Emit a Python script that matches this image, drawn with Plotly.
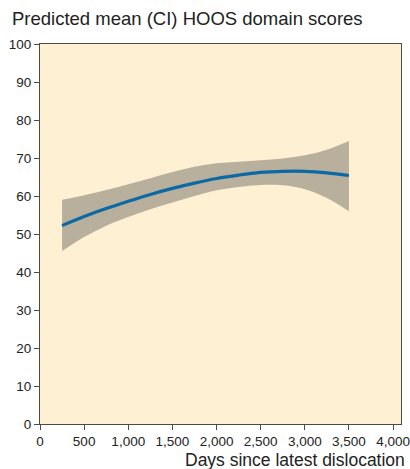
import plotly.graph_objects as go

days = [250, 500, 750, 1000, 1250, 1500, 1750, 2000, 2250, 2500, 2750, 3000, 3250, 3500]
mean_score = [52.2, 54.6, 56.7, 58.6, 60.4, 62.0, 63.4, 64.6, 65.5, 66.2, 66.5, 66.5, 66.1, 65.4]
upper_ci = [59.0, 60.2, 61.6, 63.1, 64.7, 66.3, 67.7, 68.6, 69.0, 69.4, 69.9, 70.7, 72.2, 74.5]
lower_ci = [45.5, 49.2, 52.2, 54.5, 56.5, 58.3, 60.0, 61.5, 62.4, 62.9, 62.8, 61.8, 59.5, 56.0]

x_ticks = [0, 500, 1000, 1500, 2000, 2500, 3000, 3500, 4000]
x_tick_labels = ["0", "500", "1,000", "1,500", "2,000", "2,500", "3,000", "3,500", "4,000"]
y_ticks = [0, 10, 20, 30, 40, 50, 60, 70, 80, 90, 100]

FONT = "Liberation Sans, Arial, sans-serif"

fig = go.Figure()
fig.add_trace(go.Scatter(x=days, y=upper_ci, mode="lines", line=dict(width=0, shape="spline"),
                         hoverinfo="skip", showlegend=False))
fig.add_trace(go.Scatter(x=days, y=lower_ci, mode="lines", line=dict(width=0, shape="spline"),
                         fill="tonexty", fillcolor="#b9af9d", hoverinfo="skip", showlegend=False))
fig.add_trace(go.Scatter(x=days, y=mean_score, mode="lines",
                         line=dict(color="#0b69a3", width=3.2, shape="spline"), showlegend=False))

axis_common = dict(showline=True, linecolor="#4a4a4a", linewidth=1.2, mirror=True, automargin=False,
                   ticks="outside", ticklen=5, tickcolor="#4a4a4a", showgrid=False, zeroline=False,
                   tickfont=dict(family=FONT, size=13.5, color="#222"))

fig.update_layout(
    width=410, height=469,
    margin=dict(l=40, r=9, t=44, b=45),
    paper_bgcolor="white", plot_bgcolor="#fef0d3",
    font=dict(family=FONT, color="#222"),
    xaxis=dict(range=[0, 4090], tickvals=x_ticks, ticktext=x_tick_labels, **axis_common),
    yaxis=dict(range=[0, 100], tickvals=y_ticks, **axis_common),
    annotations=[
        dict(text="Predicted mean (CI) HOOS domain scores", xref="paper", yref="paper",
             x=-30/361, y=1 + 25/380, xanchor="left", yanchor="middle", showarrow=False,
             font=dict(size=18.5, color="#222", family=FONT)),
        dict(text="Days since latest dislocation", xref="paper", yref="paper",
             x=1 + 6/361, y=-36/380, xanchor="right", yanchor="middle", showarrow=False,
             font=dict(size=17.5, color="#222", family=FONT)),
    ],
)

fig.write_html("out.html", config={"displayModeBar": False},
               post_script="document.body.style.margin='0';document.body.style.overflow='hidden';")
